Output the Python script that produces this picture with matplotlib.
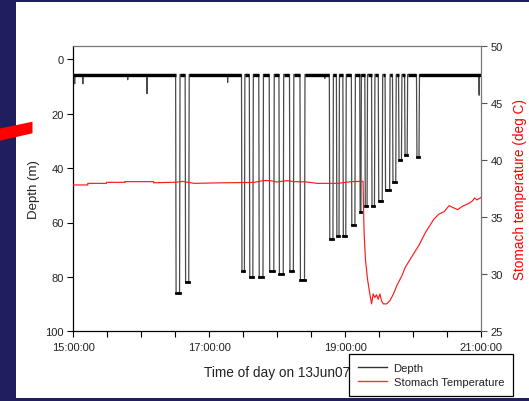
import matplotlib
matplotlib.use("Agg")
import matplotlib.pyplot as plt
import matplotlib.transforms as mtransforms
from matplotlib.patches import Rectangle, Polygon
import numpy as np

plt.rcParams['font.family'] = ['Liberation Sans', 'DejaVu Sans']

# ---------------- data (hours of day) ----------------
surface_depth = 5.6
dive_start = [16.505, 16.645, 17.474, 17.589, 17.728, 17.882, 18.025, 18.180, 18.334,
              18.766, 18.870, 18.965, 19.090, 19.213, 19.288, 19.387, 19.486, 19.586,
              19.695, 19.784, 19.873, 20.048]
dive_end = [16.570, 16.705, 17.524, 17.648, 17.797, 17.956, 18.095, 18.244, 18.408,
            18.826, 18.915, 19.015, 19.149, 19.238, 19.328, 19.437, 19.551, 19.660,
            19.750, 19.834, 19.918, 20.092]
dive_depth = [86, 82, 78, 80, 80, 78, 79, 78, 81,
              66, 65, 65, 61, 56, 54, 54, 52, 48,
              45, 37, 35, 36]
spike_time = [15.02, 15.14, 15.80, 16.083, 17.27, 18.70, 20.97]
spike_depth = [9.0, 9.0, 7.5, 12.6, 8.5, 7.0, 13.2]

temp_time = [15.0, 15.213, 15.213, 15.487, 15.487, 15.76, 15.76, 16.182, 16.182, 16.505,
             16.605, 16.778, 17.176, 17.648, 17.797, 17.896, 17.995, 18.144, 18.244,
             18.417, 18.591, 18.889, 19.088, 19.262, 19.277, 19.297, 19.327, 19.362,
             19.387, 19.411, 19.436, 19.46, 19.485, 19.51, 19.535, 19.56, 19.61, 19.659,
             19.709, 19.759, 19.834, 19.883, 19.958, 20.081, 20.181, 20.305, 20.38,
             20.455, 20.528, 20.578, 20.653, 20.727, 20.827, 20.877, 20.902, 20.936, 21.0]
temp_value = [37.81, 37.81, 37.95, 37.95, 38.04, 38.04, 38.10, 38.10, 38.00, 38.05,
              38.12, 37.95, 38.00, 38.03, 38.19, 38.19, 38.07, 38.19, 38.10,
              38.08, 37.95, 37.95, 38.10, 38.13, 33.66, 31.33, 29.58, 28.27,
              27.40, 28.27, 27.95, 28.20, 27.80, 28.27, 27.65, 27.40, 27.40, 27.70,
              28.27, 29.00, 29.87, 30.60, 31.33, 32.50, 33.66, 34.83, 35.27,
              35.47, 36.00, 35.85, 35.65, 35.95, 36.23, 36.44, 36.67, 36.50, 36.73]

xtick_pos = [15.0, 15.5, 16.0, 16.5, 17.0, 17.5, 18.0, 18.5, 19.0, 19.5, 20.0, 20.5, 21.0]
xtick_labels = ['15:00:00', '', '', '', '17:00:00', '', '', '', '19:00:00', '', '', '', '21:00:00']
depth_ticks = [0, 20, 40, 60, 80, 100]
temp_ticks = [25, 30, 35, 40, 45, 50]

# ---------------- build depth trace from dive table ----------------
descent = 0.007
dt, dd = [15.0], [surface_depth]
events = sorted([(t, d, 'spike') for t, d in zip(spike_time, spike_depth)] +
                [(s, (e, m), 'dive') for s, e, m in zip(dive_start, dive_end, dive_depth)],
                key=lambda r: r[0])
for t, v, kind in events:
    if kind == 'spike':
        dt += [t - 0.003, t, t + 0.003]
        dd += [surface_depth, v, surface_depth]
    else:
        e, m = v
        dt += [t, t + descent, e - descent, e]
        dd += [surface_depth, m, m, surface_depth]
dt.append(21.0)
dd.append(surface_depth)

bounds = [15.0] + [x for pair in zip(dive_start, dive_end) for x in pair] + [21.0]

# ---------------- figure ----------------
W, H = 529, 402
fig = plt.figure(figsize=(W / 100, H / 100), dpi=100)
fig.patch.set_facecolor('#1f1f5d')
fig.patches.append(Rectangle((16 / W, 1 - 399 / H), 1.2, (399 - 3) / H,
                             transform=fig.transFigure, facecolor='white',
                             edgecolor='none', zorder=-10))
fig.patches.append(Polygon([(0, 1 - 129.5 / H), (32.5 / W, 1 - 122.7 / H),
                            (32.5 / W, 1 - 134.3 / H), (0, 1 - 141.7 / H)],
                           closed=True, transform=fig.transFigure,
                           facecolor='#ff0000', edgecolor='none', zorder=5))

ax = fig.add_axes([73.3 / W, 1 - 332.3 / H, (481.2 - 73.3) / W, (332.3 - 46.7) / H])
ax.set_facecolor('none')
ax2 = ax.twinx()

txt = '#222222'
ax.plot(dt, dd, color='#4a4a4a', lw=0.9, zorder=3)
for i in range(0, len(bounds), 2):
    a, b = bounds[i], bounds[i + 1]
    ax.plot([a, b], [surface_depth, surface_depth], color='black', lw=2.4,
            solid_capstyle='butt', zorder=3)
for s, e, m in zip(dive_start, dive_end, dive_depth):
    ax.plot([s + descent, e - descent], [m, m], color='black', lw=2.0, zorder=3)

ax2.plot(temp_time, temp_value, color='#ff1a1a', lw=0.85, zorder=2)

ax.set_xlim(15.0, 21.0)
ax.set_ylim(100, -5)
ax2.set_ylim(25, 50)

ax.set_xticks(xtick_pos)
ax.set_xticklabels(xtick_labels)
ax.set_yticks(depth_ticks)
ax2.set_yticks(temp_ticks)

off = mtransforms.ScaledTranslation(0.03, 0, fig.dpi_scale_trans)
for lab in ax.get_xticklabels():
    lab.set_transform(lab.get_transform() + off)

ax.tick_params(axis='both', direction='out', length=4, width=0.8, colors='black',
               labelcolor=txt, labelsize=8, pad=3)
ax.tick_params(axis='x', pad=4)
ax2.tick_params(axis='y', direction='out', length=4, width=0.8, colors='#555555',
                labelcolor=txt, labelsize=8, pad=3)

for sp in ['left', 'bottom']:
    ax.spines[sp].set_color('black')
    ax.spines[sp].set_linewidth(0.9)
for sp in ['top', 'right']:
    ax2.spines[sp].set_color('#777777')
    ax2.spines[sp].set_linewidth(0.9)
ax.spines['top'].set_visible(False)
ax.spines['right'].set_visible(False)
ax2.spines['left'].set_visible(False)
ax2.spines['bottom'].set_visible(False)

ax.set_ylabel('Depth (m)', fontsize=9.5, color=txt, labelpad=4)
ax2.set_ylabel('Stomach temperature (deg C)', fontsize=9.8, color='#ff0000', labelpad=7)
ax.set_xlabel('Time of day on 13Jun07', fontsize=9.8, color=txt, labelpad=9)

h1, = ax.plot([], [], color='#333333', lw=1.0)
h2, = ax.plot([], [], color='#ff3333', lw=1.0)
leg = fig.legend([h1, h2], ['Depth', 'Stomach Temperature'],
                 loc='lower left', bbox_to_anchor=(348.5 / W, 1 - 396.7 / H),
                 fontsize=8.1, frameon=True, fancybox=False, framealpha=1,
                 edgecolor='black', handlelength=2.6, handletextpad=0.6,
                 borderpad=0.8, labelspacing=0.35, borderaxespad=0)
leg.get_frame().set_linewidth(0.9)
leg.set_zorder(10)
for t in leg.get_texts():
    t.set_color(txt)

fig.savefig('out.png', dpi=100, facecolor=fig.get_facecolor())
